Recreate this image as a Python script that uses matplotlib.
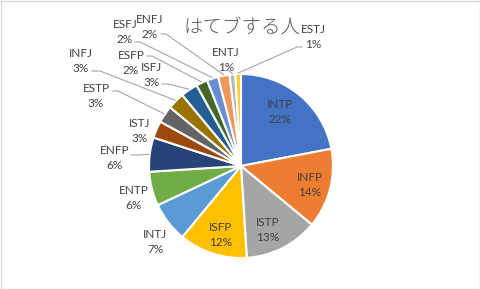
import numpy as np
import matplotlib.pyplot as plt
from matplotlib.patches import Rectangle

# data
types = ['INTP', 'INFP', 'ISTP', 'ISFP', 'INTJ', 'ENTP', 'ENFP', 'ISTJ',
         'ESTP', 'INFJ', 'ISFJ', 'ESFP', 'ESFJ', 'ENFJ', 'ENTJ', 'ESTJ']
percent = [22, 14, 13, 12, 7, 6, 6, 3, 3, 3, 3, 2, 2, 2, 1, 1]
colors = ['#4472C4', '#ED7D31', '#A5A5A5', '#FFC000', '#5B9BD5', '#70AD47',
          '#264478', '#9E480E', '#636363', '#997300', '#255E91', '#43682B',
          '#698ED0', '#F1975A', '#B7B7B7', '#FFCD33']
title = 'はてブする人'

W, H = 481, 289
# label centres in pixel coords (x, y from top)
label_pos = [(280, 112), (310, 185), (268, 230), (221, 235), (155, 242),
             (134, 198), (115, 158), (140, 131), (96, 96), (81, 61),
             (152, 75), (131, 63), (125, 32), (150, 27), (226, 60), (313, 37)]
# leader line start (pixel), None = no leader
leader = {'ESTJ': [(302, 47), (297, 47)], 'ENTJ': [(228, 70), (228, 70)],
          'ENFJ': [(161, 34), (166, 34)], 'ESFJ': [(135, 42), (140, 42)],
          'ESFP': [(147, 56), (152, 56)], 'ISFJ': [(162, 84), (168, 84)],
          'INFJ': [(92, 71), (100, 71)], 'ESTP': [(113, 91), (118, 91)],
          'ENFP': [(131, 155), (138, 155)]}

cx, cy, R = 241, 166, 92

fig = plt.figure(figsize=(W / 100, H / 100), dpi=100)
ax = fig.add_axes([0, 0, 1, 1])

wedges, _ = ax.pie(percent, colors=colors, startangle=90, counterclock=False,
                   center=(cx, H - cy), radius=R, frame=True,
                   wedgeprops=dict(edgecolor='white', linewidth=1.5))
ax.set_xlim(0, W)
ax.set_ylim(0, H)
ax.set_aspect('equal')
ax.axis('off')

for name, p, w, (lx, ly) in zip(types, percent, wedges, label_pos):
    ax.text(lx, H - ly, f'{name}\n{p}%', ha='center', va='center',
            fontsize=8.5, color='#404040', family=['Lato', 'DejaVu Sans'],
            linespacing=1.35)
    if name in leader:
        mid = np.deg2rad((w.theta1 + w.theta2) / 2)
        ex = cx + R * 1.01 * np.cos(mid)
        ey = H - cy + R * 1.01 * np.sin(mid)
        (x0, y0), (x1, y1) = leader[name]
        ax.plot([x0, x1, ex], [H - y0, H - y1, ey], color='#A6A6A6', lw=0.8)

ax.text(242, H - 27, title, ha='center', va='center', fontsize=14,
        color='#595959', family=['Noto Sans CJK JP', 'DejaVu Sans'],
        fontweight='light')

fig.patches.append(Rectangle((0.5 / W, 0.5 / H), 1 - 1.5 / W, 1 - 1.5 / H,
                             transform=fig.transFigure, fill=False,
                             edgecolor='#D9D9D9', lw=1))

fig.savefig('out.png', dpi=100, facecolor='white')
